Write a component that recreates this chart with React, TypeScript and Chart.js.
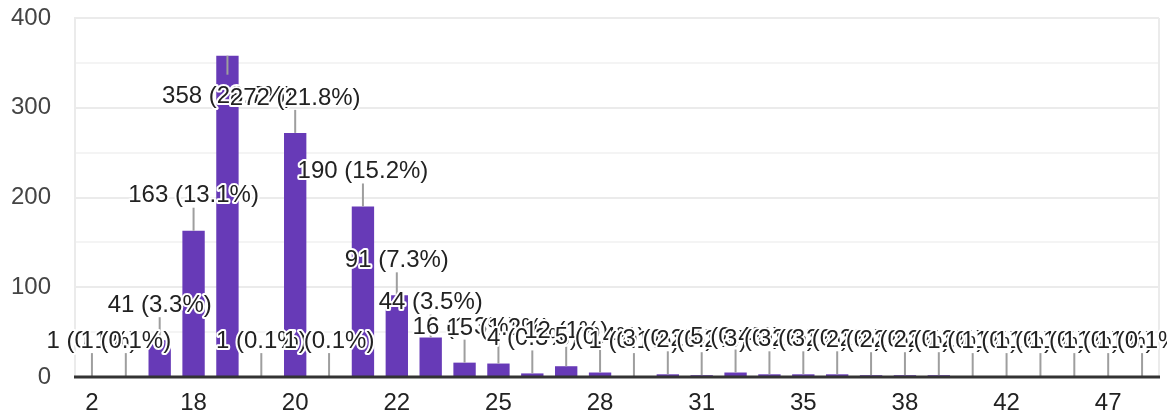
import { useEffect, useRef } from 'react'
import { Chart, registerables } from 'chart.js'

Chart.register(...registerables)

const AGES = ['2', '16', '17', '18', '19', '19.5', '20', '20.5', '21', '22', '23', '24', '25', '26', '27', '28',
  '29', '30', '31', '32', '33', '35', '36', '37', '38', '39', '40', '42', '43', '45', '47', '50']
const COUNTS = [1, 1, 41, 163, 358, 1, 272, 1, 190, 91, 44, 16, 15, 4, 12, 5,
  1, 3, 2, 5, 3, 3, 3, 2, 2, 2, 1, 1, 1, 1, 1, 1]
const Y_TICKS = [0, 100, 200, 300, 400]

const FONT = 'Arial, "Liberation Sans", sans-serif'
const TOTAL = COUNTS.reduce((a, b) => a + b, 0)

function pct(v: number) {
  const p = Math.round((v / TOTAL) * 1000) / 10
  return `${v} (${p}%)`
}

const labelPlugin = {
  id: 'leaderLabels',
  afterDatasetsDraw(chart: Chart) {
    const { ctx, chartArea } = chart
    const meta = chart.getDatasetMeta(0)
    const spots = meta.data.map((bar: any, i: number) => {
      const top = bar.y
      const up = top - 35 - 14 >= chartArea.top
      return {
        x: bar.x,
        top,
        end: up ? top - 23 : top + 19,
        ty: up ? top - 35 : top + 41,
        text: pct(COUNTS[i]),
      }
    })
    ctx.save()
    // leader lines
    ctx.strokeStyle = '#9e9e9e'
    ctx.lineWidth = 2
    spots.forEach(s => {
      ctx.beginPath()
      ctx.moveTo(s.x, s.top)
      ctx.lineTo(s.x, s.end)
      ctx.stroke()
    })
    // plot frame right side and baseline
    ctx.strokeStyle = '#ebebeb'
    ctx.beginPath()
    ctx.moveTo(chartArea.right, chartArea.top)
    ctx.lineTo(chartArea.right, chartArea.bottom)
    ctx.stroke()
    ctx.strokeStyle = '#333333'
    ctx.lineWidth = 3
    ctx.beginPath()
    ctx.moveTo(chartArea.left - 1, chartArea.bottom)
    ctx.lineTo(chartArea.right + 1, chartArea.bottom)
    ctx.stroke()
    // labels, left to right
    ctx.font = `24px ${FONT}`
    ctx.textAlign = 'center'
    ctx.textBaseline = 'middle'
    ctx.lineJoin = 'round'
    spots.forEach(s => {
      ctx.strokeStyle = '#ffffff'
      ctx.lineWidth = 4
      ctx.strokeText(s.text, s.x, s.ty)
      ctx.fillStyle = '#222222'
      ctx.fillText(s.text, s.x, s.ty)
    })
    ctx.restore()
  },
}

export default function App() {
  const canvasRef = useRef<HTMLCanvasElement>(null)
  const chartRef = useRef<Chart | null>(null)

  useEffect(() => {
    if (!canvasRef.current) return
    if (chartRef.current) chartRef.current.destroy()

    chartRef.current = new Chart(canvasRef.current, {
      type: 'bar',
      data: {
        labels: AGES,
        datasets: [{
          data: COUNTS,
          backgroundColor: '#673ab7',
          barPercentage: 0.66,
          categoryPercentage: 1,
        }],
      },
      options: {
        responsive: false,
        animation: false,
        layout: { padding: { top: 0, right: 8, left: 0, bottom: 0 } },
        plugins: { legend: { display: false }, tooltip: { enabled: false } },
        scales: {
          x: {
            grid: { display: false, drawTicks: false },
            border: { display: false },
            afterFit: (s: any) => { s.height = 37 },
            ticks: {
              autoSkip: false,
              maxRotation: 0,
              padding: 12,
              color: '#222222',
              font: { size: 24, family: FONT },
              callback: (_v: any, i: number) => (i % 3 === 0 ? AGES[i] : ''),
            },
          },
          y: {
            min: Y_TICKS[0],
            max: Y_TICKS[Y_TICKS.length - 1],
            afterFit: (s: any) => { s.width = 75 },
            grid: {
              drawTicks: true,
              tickLength: 24,
              tickColor: 'rgba(0,0,0,0)',
              lineWidth: 2,
              color: (c: any) => (c.tick && c.tick.value % 100 === 0 ? '#ebebeb' : '#f4f4f4'),
            },
            border: { display: true, color: '#ebebeb', width: 2 },
            ticks: {
              stepSize: 50,
              padding: 0,
              color: '#444444',
              font: { size: 24, family: FONT, lineHeight: 1.5 },
              callback: (v: any) => (Y_TICKS.includes(Number(v)) ? String(v) : ''),
            },
          },
        },
      },
      plugins: [labelPlugin],
    })

    return () => { chartRef.current?.destroy() }
  }, [])

  return (
    <div style={{ position: 'absolute', left: 0, top: 0, width: 1167, height: 414, background: '#fff' }}>
      <canvas ref={canvasRef} width={1167} height={414} />
    </div>
  )
}
